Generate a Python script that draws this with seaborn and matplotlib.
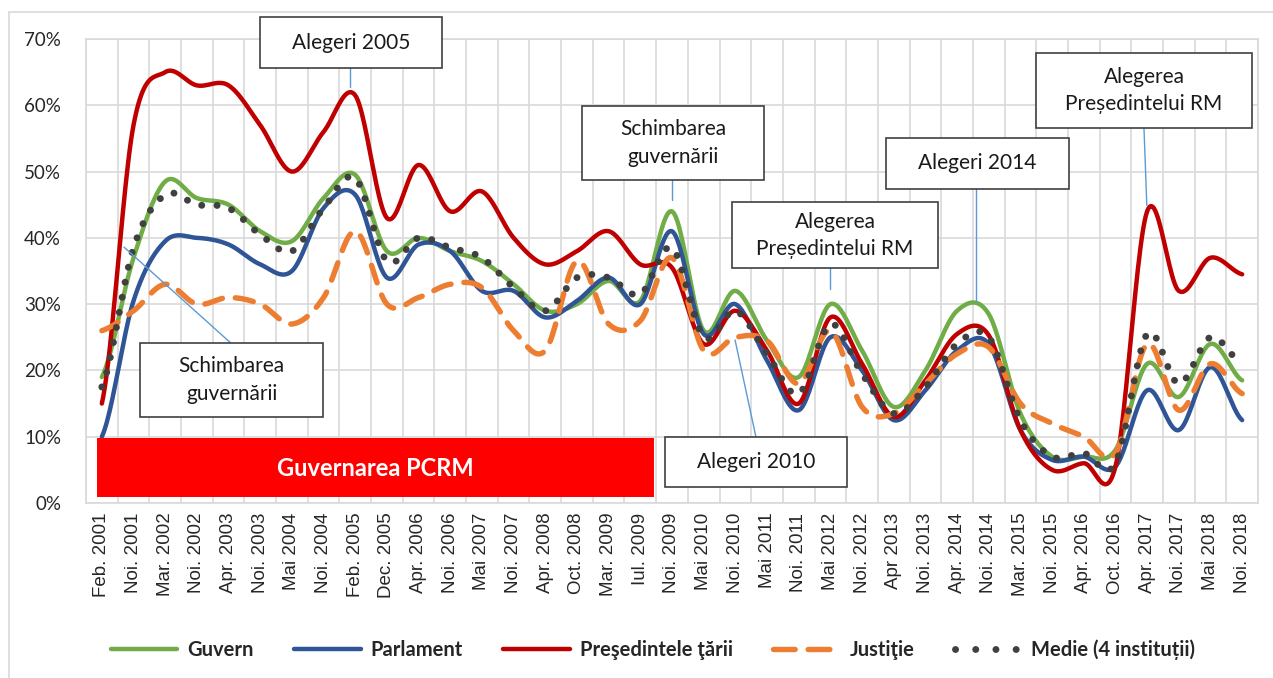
import numpy as np
import matplotlib
matplotlib.use("Agg")
import matplotlib.pyplot as plt
import seaborn as sns
from matplotlib.patches import Rectangle
from matplotlib.lines import Line2D
from matplotlib.ticker import PercentFormatter, FixedLocator

# Trust in institutions, % of respondents
periods = ["Feb. 2001", "Noi. 2001", "Mar. 2002", "Noi. 2002", "Apr. 2003", "Noi. 2003",
           "Mai 2004", "Noi. 2004", "Feb. 2005", "Dec. 2005", "Apr. 2006", "Noi. 2006",
           "Mai 2007", "Noi. 2007", "Apr. 2008", "Oct. 2008", "Mar. 2009", "Iul. 2009",
           "Noi. 2009", "Mai 2010", "Noi. 2010", "Mai 2011", "Noi. 2011", "Mai 2012",
           "Noi. 2012", "Apr 2013", "Noi. 2013", "Apr. 2014", "Noi. 2014", "Mar. 2015",
           "Noi. 2015", "Apr. 2016", "Oct. 2016", "Apr. 2017", "Noi. 2017", "Mai 2018",
           "Noi. 2018"]

guvern = [19, 37, 48.5, 46, 45, 41, 39.5, 46, 49.5, 38, 40, 38, 36.5, 33, 29, 30, 33.5,
          30.5, 44, 26, 32, 24.5, 19, 30, 23, 14.5, 20, 29, 28.5, 13.5, 7, 7, 8, 21, 16,
          24, 18.5]
parlament = [10, 30.5, 39.5, 40, 39, 36, 35, 44.5, 46.5, 34, 39, 38, 32, 32, 28, 30.5, 34,
             30, 41, 25.5, 30, 21.5, 14, 25, 20, 12.5, 17, 23, 24, 11, 6.5, 7, 5.5, 17, 11,
             20.5, 12.5]
presedinte = [15, 57, 65, 63, 63, 57, 50, 56, 61.5, 43, 51, 44, 47, 40, 36, 38, 41, 36,
              35.5, 24, 29, 23, 15, 28, 21, 13, 18.5, 25.5, 25.3, 11, 5, 6, 5.5, 44, 32,
              37, 34.5]
justitie = [26, 29, 33, 30, 31, 30, 27, 31, 41, 30, 31, 33, 32.5, 26, 23, 36.5, 27, 27.5,
            37, 23, 25, 24.5, 18, 26, 14.5, 13.5, 18, 22.5, 23.5, 15, 12, 10, 7.5, 24, 14,
            21, 16.5]
medie = [17.5, 38.5, 46.5, 45, 44.5, 40.5, 38, 44.5, 49, 36.5, 40, 38.5, 37, 32.5, 29, 34,
         34, 31.5, 38.5, 25, 29, 22.5, 16.5, 27, 19.5, 13.5, 17.5, 24, 25, 12.5, 7, 7.5, 6,
         25.5, 18, 25, 21]


def smooth(vals, n=24):
    # Catmull-Rom curve through the points, like Excel's "smoothed line"
    v = np.asarray(vals, float)
    p = np.concatenate([[v[0]], v, [v[-1]]])
    t = np.linspace(0, 1, n, endpoint=False)
    xs, ys = [], []
    for i in range(len(v) - 1):
        p0, p1, p2, p3 = p[i:i + 4]
        y = 0.5 * (2 * p1 + (p2 - p0) * t + (2 * p0 - 5 * p1 + 4 * p2 - p3) * t ** 2
                   + (3 * p1 - p0 - 3 * p2 + p3) * t ** 3)
        xs.append(i + t)
        ys.append(y)
    xs.append([len(v) - 1])
    ys.append([v[-1]])
    return np.concatenate(xs), np.concatenate(ys)


sns.set_style("white")
plt.rcParams["font.family"] = ["Lato", "DejaVu Sans"]

W, H = 1273, 678
fig = plt.figure(figsize=(W / 100, H / 100), dpi=100)
ax = fig.add_axes([86 / W, 1 - 503 / H, (1258 - 86) / W, (503 - 39) / H])

# name, values, colour, line style in plot, line width, line style in legend
series = [
    ("Guvern", guvern, "#70AD47", "-", 3.2, "-"),
    ("Parlament", parlament, "#2F5597", "-", 3.2, "-"),
    ("Preşedintele ţării", presedinte, "#C00000", "-", 3.2, "-"),
    ("Justiţie", justitie, "#ED7D31", (0, (3.4, 2.4)), 3.9, (0, (4.0, 2.4))),
    ("Medie (4 instituții)", medie, "#404040", (0, (0.01, 2.2)), 5.0, (0, (0.01, 2.9))),
]
handles = []
for name, vals, col, ls, lw, leg_ls in series:
    xs, ys = smooth(vals)
    sns.lineplot(x=xs, y=ys, ax=ax, color=col, lw=lw, linestyle=ls,
                 dash_capstyle="round", solid_capstyle="round", zorder=2)
    handles.append(Line2D([], [], color=col, lw=lw, linestyle=leg_ls,
                          dash_capstyle="round", solid_capstyle="round"))
if ax.get_legend() is not None:
    ax.get_legend().remove()

ax.set_xlim(-0.5, len(periods) - 0.5)
ax.set_ylim(0, 70)
ax.set_yticks(range(0, 71, 10))
ax.yaxis.set_major_formatter(PercentFormatter(decimals=0))
ax.set_xticks(range(len(periods)))
ax.set_xticklabels(periods, rotation=90, fontsize=13.5, family="Liberation Sans")
ax.xaxis.set_minor_locator(FixedLocator(np.arange(-0.5, len(periods), 1)))
ax.tick_params(axis="both", which="both", length=0)
ax.tick_params(axis="x", pad=7)
ax.tick_params(axis="y", pad=18, labelsize=13.5)
ax.grid(True, axis="y", which="major", color="#D9D9D9", lw=1.2)
ax.grid(True, axis="x", which="minor", color="#D9D9D9", lw=1.2)
ax.set_axisbelow(True)
for sp in ax.spines.values():
    sp.set_color("#D9D9D9")
    sp.set_linewidth(1.2)
ax.set_xlabel("")
ax.set_ylabel("")

# PCRM government period
ax.add_patch(Rectangle((-0.15, 0.9), 17.58, 8.9, facecolor="#FF0000", edgecolor="none",
                       zorder=4, clip_on=False))
ax.text(8.63, 5.2, "Guvernarea PCRM", color="white", fontsize=17, fontweight="bold",
        ha="center", va="center", zorder=5)

# event call-outs: (text, x0, x1, y0, y1, pointer line)
callouts = [
    ("Alegeri 2005", 4.99, 10.74, 65.6, 73.3, [(7.83, 65.6), (7.83, 62.7)]),
    ("Schimbarea\nguvernării", 1.21, 6.98, 13.0, 24.1, [(4.08, 24.1), (0.70, 38.6)]),
    ("Schimbarea\nguvernării", 15.16, 20.90, 48.7, 59.9, [(18.0, 48.7), (18.0, 45.7)]),
    ("Alegerea\nPreședintelui RM", 19.89, 26.40, 35.4, 45.4, [(22.98, 35.4), (22.98, 32.3)]),
    ("Alegeri 2010", 17.78, 23.52, 2.41, 9.95, [(20.65, 9.95), (19.99, 24.6)]),
    ("Alegeri 2014", 24.75, 30.53, 47.4, 55.1, [(27.6, 47.4), (27.6, 30.3)]),
    ("Alegerea\nPreședintelui RM", 29.49, 36.31, 56.6, 67.9, [(32.9, 56.6), (32.99, 44.9)]),
]
for txt, x0, x1, y0, y1, ptr in callouts:
    (ax_, ay_), (bx_, by_) = ptr
    ax.plot([ax_, bx_], [ay_, by_], color="#5B9BD5", lw=1, zorder=4, clip_on=False)
    ax.add_patch(Rectangle((x0, y0), x1 - x0, y1 - y0, facecolor="white",
                           edgecolor="#404040", lw=1.2, zorder=5, clip_on=False))
    ax.text((x0 + x1) / 2, (y0 + y1) / 2, txt, fontsize=15, ha="center", va="center",
            linespacing=1.45, zorder=6, color="#1a1a1a")

fig.legend(handles, [s[0] for s in series], loc="center", bbox_to_anchor=(0.513, 1 - 650 / H),
           ncol=5, frameon=False, prop={"weight": "bold", "size": 14.5},
           handlelength=3.3, handletextpad=0.5, columnspacing=2.0)

# outer chart frame
fig.add_artist(Line2D([9 / W, 9 / W], [0, 1 - 12 / H], transform=fig.transFigure,
                      color="#D9D9D9", lw=1.2))
fig.add_artist(Line2D([9 / W, 1], [1 - 12 / H, 1 - 12 / H], transform=fig.transFigure,
                      color="#D9D9D9", lw=1.2))

fig.savefig("out.png", dpi=100)
